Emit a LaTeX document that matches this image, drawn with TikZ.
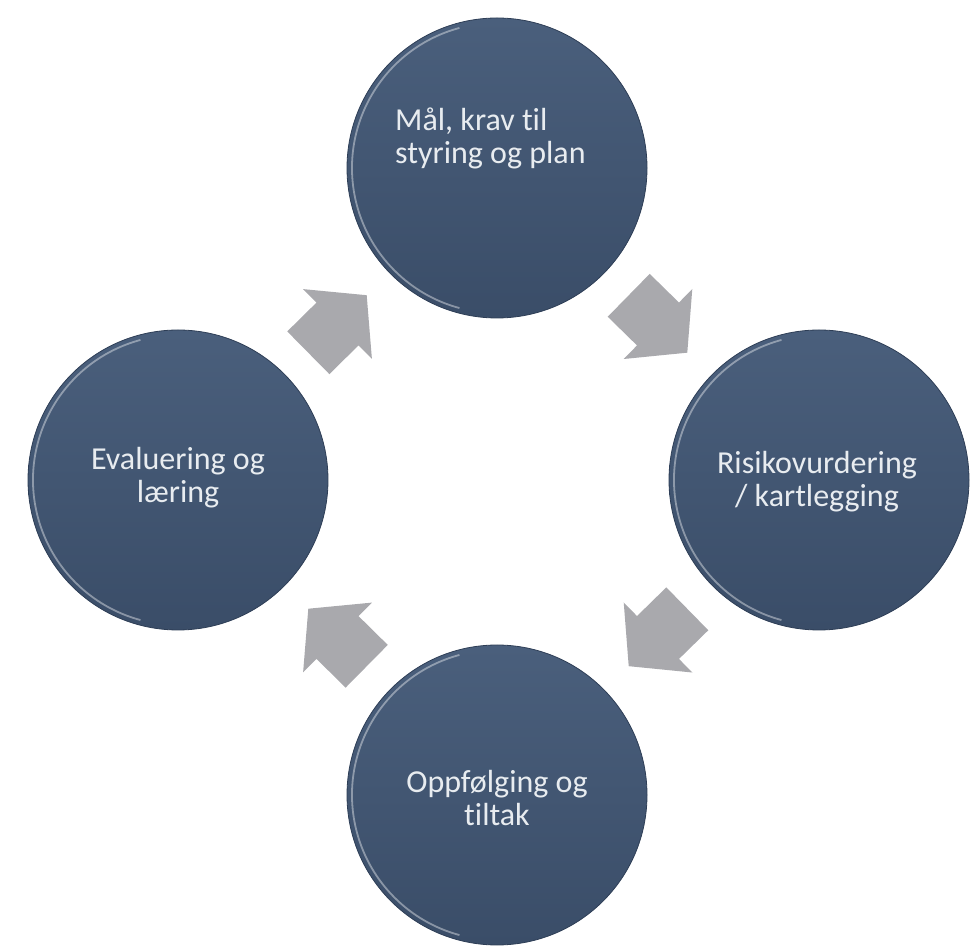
\documentclass[tikz,border=0pt]{standalone}
\usepackage{fontspec}
\setmainfont{Carlito}[Ligatures=NoCommon]
\usetikzlibrary{calc}
\definecolor{disctop}{HTML}{4A5F7C}
\definecolor{discbot}{HTML}{3A4D68}
\definecolor{discrim}{HTML}{2E3E56}
\definecolor{disctext}{HTML}{E8ECF0}
\definecolor{arrowgray}{HTML}{A9A9AD}
\tikzset{
  disc/.style={circle, minimum size=300pt, inner sep=0pt, top color=disctop, bottom color=discbot, draw=discrim, line width=0.8pt},
  disclabel/.style={text=disctext, font=\fontsize{32}{33}\selectfont, inner sep=0pt},
  rimlight/.style={white, opacity=0.4, line width=1.8pt},
  blockarrow/.pic={\fill[arrowgray] (-41,-30) -- (0,-30) -- (0,-49) -- (41,0) -- (0,49) -- (0,30) -- (-41,30) -- cycle;}
}
\begin{document}
\begin{tikzpicture}[x=1pt,y=1pt]
\useasboundingbox (0,0) rectangle (979,950);
% discs
\node[disc] (top) at (497,782) {};
\node[disc] (right) at (819,470) {};
\node[disc] (bottom) at (497,155) {};
\node[disc] (left) at (178,470) {};
% rim highlights
\foreach \n in {top,right,bottom,left}{
  \draw[rimlight] ($(\n.center)+(105:145)$) arc[start angle=105, end angle=255, radius=145];
}
% labels
\node[disclabel, align=left, anchor=west] (ltop) at ($(top.center)+(-102,30)$) {Mål, krav til\\styring og plan};
\node[disclabel, align=center] (lright) at ($(right.center)+(-2,-2)$) {Risikovurdering\\/ kartlegging};
\node[disclabel, align=center] (lbottom) at ($(bottom.center)+(0,-3)$) {Oppfølging og\\tiltak};
\node[disclabel, align=center] (lleft) at ($(left.center)+(0,2)$) {Evaluering og\\læring};
% arrows
\path ($(top)!0.5!(right)$) pic[rotate=-44.4] {blockarrow};
\path ($(right)!0.5!(bottom)$) pic[rotate=224.4] {blockarrow};
\path ($(bottom)!0.5!(left)$) pic[rotate=135.4] {blockarrow};
\path ($(left)!0.5!(top)$) pic[rotate=44.6] {blockarrow};
\end{tikzpicture}
\end{document}
